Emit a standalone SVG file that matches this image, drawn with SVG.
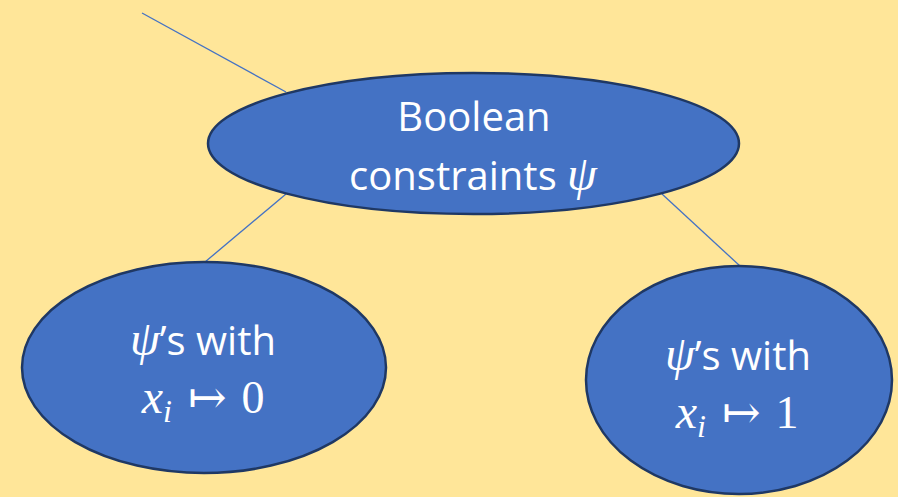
<svg xmlns="http://www.w3.org/2000/svg" width="898" height="497" viewBox="0 0 898 497">
<style>
.node{fill:#4472C4;stroke:#1F3864;stroke-width:2.5}
.conn{stroke:#4472C4;stroke-width:1.3;fill:none}
.t{font-family:"Open Sans","Liberation Sans",sans-serif;font-size:40px;fill:#ffffff;text-anchor:middle}
.m{font-family:"Liberation Serif","DejaVu Serif",serif;font-style:italic;font-size:48px}
.u{font-family:"Liberation Serif","DejaVu Serif",serif;font-style:normal;font-size:46px}
.sub{font-size:32px}
</style>
<rect x="0" y="0" width="898" height="497" fill="#FFE699"/>
<g id="connectors">
<line class="conn" x1="142" y1="13" x2="286" y2="92"/>
<line class="conn" x1="286" y1="194" x2="205" y2="262"/>
<line class="conn" x1="662" y1="194" x2="740" y2="266"/>
</g>
<g id="root">
<ellipse class="node" cx="473.5" cy="143.5" rx="265.5" ry="70.5"/>
<text class="t" x="474" y="131">Boolean</text>
<text class="t" x="473" y="190">constraints <tspan class="m">ψ</tspan></text>
</g>
<g id="left">
<ellipse class="node" cx="204" cy="367.5" rx="182" ry="105.5"/>
<text class="t" x="203" y="355"><tspan class="m">ψ</tspan>’s with</text>
<text class="t" x="203" y="413"><tspan class="m">x</tspan><tspan class="m sub" dy="9">i</tspan><tspan class="u" dy="-9" dx="5"> ↦</tspan><tspan class="u" dx="3"> 0</tspan></text>
</g>
<g id="right">
<ellipse class="node" cx="739" cy="380" rx="153" ry="114"/>
<text class="t" x="738" y="370"><tspan class="m">ψ</tspan>’s with</text>
<text class="t" x="737" y="428"><tspan class="m">x</tspan><tspan class="m sub" dy="9">i</tspan><tspan class="u" dy="-9" dx="5"> ↦</tspan><tspan class="u" dx="3"> 1</tspan></text>
</g>
</svg>
